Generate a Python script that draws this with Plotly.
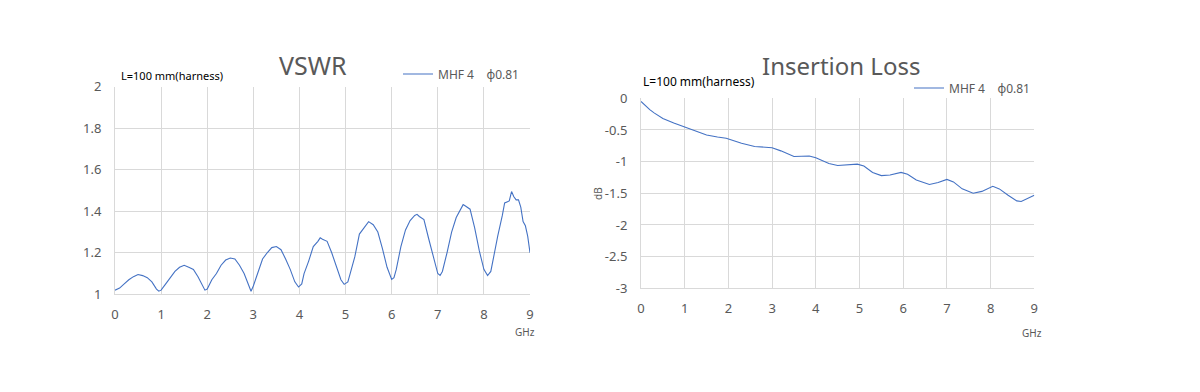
import plotly.graph_objects as go

# ---- data ----
freq_vswr = [0.0, 0.1, 0.2, 0.3, 0.4, 0.5, 0.6, 0.7, 0.8, 0.9, 0.95,
             1.0, 1.1, 1.2, 1.3, 1.4, 1.5, 1.6, 1.7, 1.8, 1.9, 1.95,
             2.0, 2.1, 2.2, 2.3, 2.4, 2.5, 2.6, 2.7, 2.8, 2.9, 2.95,
             3.0, 3.1, 3.2, 3.3, 3.4, 3.5, 3.6, 3.7, 3.8, 3.9, 3.98,
             4.05, 4.1, 4.2, 4.3, 4.4, 4.45, 4.5, 4.6, 4.7, 4.8, 4.9, 4.97,
             5.05, 5.1, 5.2, 5.3, 5.4, 5.5, 5.6, 5.7, 5.8, 5.9, 6.0,
             6.05, 6.1, 6.2, 6.3, 6.4, 6.5, 6.55, 6.6, 6.7, 6.8, 6.9, 7.0, 7.05,
             7.1, 7.2, 7.3, 7.4, 7.5, 7.55, 7.6, 7.7, 7.8, 7.9, 8.0, 8.08,
             8.15, 8.2, 8.3, 8.4, 8.45, 8.5, 8.55, 8.6, 8.65, 8.7, 8.75, 8.8,
             8.85, 8.9, 8.95, 9.0]
vswr = [1.02, 1.03, 1.05, 1.07, 1.085, 1.095, 1.09, 1.08, 1.06, 1.025, 1.015,
        1.02, 1.05, 1.08, 1.11, 1.13, 1.14, 1.13, 1.12, 1.085, 1.04, 1.02,
        1.025, 1.07, 1.10, 1.14, 1.165, 1.175, 1.17, 1.14, 1.10, 1.04, 1.015,
        1.04, 1.10, 1.17, 1.20, 1.225, 1.23, 1.215, 1.17, 1.12, 1.06, 1.035,
        1.05, 1.10, 1.16, 1.23, 1.255, 1.272, 1.265, 1.255, 1.20, 1.13, 1.07, 1.048,
        1.06, 1.10, 1.18, 1.29, 1.32, 1.35, 1.335, 1.30, 1.22, 1.13, 1.072,
        1.08, 1.12, 1.23, 1.31, 1.355, 1.38, 1.385, 1.375, 1.36, 1.27, 1.18, 1.10, 1.091,
        1.11, 1.20, 1.30, 1.37, 1.415, 1.432, 1.425, 1.41, 1.32, 1.21, 1.12, 1.09,
        1.11, 1.17, 1.28, 1.38, 1.44, 1.445, 1.45, 1.495, 1.47, 1.455, 1.455, 1.42,
        1.35, 1.33, 1.28, 1.20]

freq_il = [0.0, 0.1, 0.2, 0.3, 0.4, 0.5, 0.75, 1.0, 1.3, 1.5, 1.75, 1.95,
           2.3, 2.6, 3.0, 3.2, 3.5, 3.85, 4.0, 4.3, 4.5, 4.7, 4.95, 5.1,
           5.3, 5.5, 5.7, 5.95, 6.1, 6.3, 6.6, 6.8, 7.0, 7.15, 7.35, 7.6,
           7.8, 8.05, 8.2, 8.4, 8.6, 8.7, 8.85, 9.0]
insertion_loss = [-0.05, -0.12, -0.18, -0.23, -0.28, -0.32, -0.39, -0.45, -0.53, -0.58, -0.61, -0.63,
                  -0.71, -0.76, -0.78, -0.83, -0.92, -0.91, -0.94, -1.03, -1.06, -1.05, -1.04, -1.07,
                  -1.17, -1.22, -1.21, -1.17, -1.20, -1.29, -1.36, -1.33, -1.28, -1.32, -1.43, -1.50,
                  -1.47, -1.39, -1.43, -1.53, -1.62, -1.63, -1.58, -1.53]

x_ticks = [0, 1, 2, 3, 4, 5, 6, 7, 8, 9]
vswr_ticks = [1, 1.2, 1.4, 1.6, 1.8, 2]
il_ticks = [0, -0.5, -1, -1.5, -2, -2.5, -3]
il_tick_text = ["0", "-0.5", "-1", "-1.5", "-2", "-2.5", "-3"]
series_name = "MHF 4\u00a0\u00a0\u00a0\u00a0\u03d50.81"

# page body has an 8px margin; figure sized to fit inside the window
OFF = 8
W, H = 1184, 376
FONT = "Noto Sans"
GRAY = "#595959"
GRID = "#d9d9d9"
LINE = "#4472C4"

def px(x):
    return (x - OFF) / W

def py(y):
    return 1 - (y - OFF) / H

fig = go.Figure()
fig.add_trace(go.Scatter(x=freq_vswr, y=vswr, mode="lines", name=series_name,
                         line=dict(color=LINE, width=1.1), xaxis="x", yaxis="y",
                         legend="legend", showlegend=True))
fig.add_trace(go.Scatter(x=freq_il, y=insertion_loss, mode="lines", name=series_name,
                         line=dict(color=LINE, width=1.1), xaxis="x2", yaxis="y2",
                         legend="legend2", showlegend=True))

axis_common = dict(showgrid=True, gridcolor=GRID, gridwidth=1, zeroline=False,
                   showline=True, linecolor=GRID, linewidth=1, ticks="",
                   automargin=False,
                   tickfont=dict(family=FONT, size=13, color=GRAY))

fig.update_layout(
    width=W, height=H,
    margin=dict(l=0, r=0, t=0, b=0, autoexpand=False),
    showlegend=True,
    paper_bgcolor="white", plot_bgcolor="white",
    font=dict(family=FONT, color=GRAY),
    xaxis=dict(domain=[px(115), px(530)], anchor="y", range=[0, 9],
               tickvals=x_ticks, ticklabelstandoff=8, **axis_common),
    yaxis=dict(domain=[py(294.3), py(86.7)], anchor="x", range=[1, 2],
               tickvals=vswr_ticks, ticktext=[str(v) for v in vswr_ticks],
               ticklabelstandoff=10, **axis_common),
    xaxis2=dict(domain=[px(641), px(1034.3)], anchor="y2", range=[0, 9],
                tickvals=x_ticks, ticklabelstandoff=8, **axis_common),
    yaxis2=dict(domain=[py(288.3), py(98.3)], anchor="x2", range=[-3, 0],
                tickvals=il_ticks, ticktext=il_tick_text,
                ticklabelstandoff=10, **axis_common),
    legend=dict(x=px(398), y=py(74), xanchor="left", yanchor="middle",
                bgcolor="rgba(0,0,0,0)", font=dict(family=FONT, size=12, color=GRAY),
                itemwidth=30, tracegroupgap=0),
    legend2=dict(x=px(909), y=py(88), xanchor="left", yanchor="middle",
                 bgcolor="rgba(0,0,0,0)", font=dict(family=FONT, size=12, color=GRAY),
                 itemwidth=30, tracegroupgap=0),
    annotations=[
        dict(text="VSWR", x=px(313), y=py(65), xref="paper", yref="paper",
             showarrow=False, xanchor="center", yanchor="middle",
             font=dict(family=FONT, size=25, color=GRAY)),
        dict(text="Insertion Loss", x=px(841), y=py(65), xref="paper", yref="paper",
             showarrow=False, xanchor="center", yanchor="middle",
             font=dict(family=FONT, size=24, color=GRAY)),
        dict(text="L=100 mm(harness)", x=px(119), y=py(75), xref="paper", yref="paper",
             showarrow=False, xanchor="left", yanchor="middle",
             font=dict(family=FONT, size=11, color="black")),
        dict(text="L=100 mm(harness)", x=px(641), y=py(82), xref="paper", yref="paper",
             showarrow=False, xanchor="left", yanchor="middle",
             font=dict(family=FONT, size=12, color="black")),
        dict(text="GHz", x=px(525), y=py(332), xref="paper", yref="paper",
             showarrow=False, xanchor="center", yanchor="middle",
             font=dict(family=FONT, size=10, color=GRAY)),
        dict(text="GHz", x=px(1032), y=py(333), xref="paper", yref="paper",
             showarrow=False, xanchor="center", yanchor="middle",
             font=dict(family=FONT, size=10, color=GRAY)),
        dict(text="dB", x=px(598), y=py(194), xref="paper", yref="paper",
             showarrow=False, xanchor="center", yanchor="middle", textangle=-90,
             font=dict(family=FONT, size=10, color=GRAY)),
    ],
)

fig.write_html("out.html")
